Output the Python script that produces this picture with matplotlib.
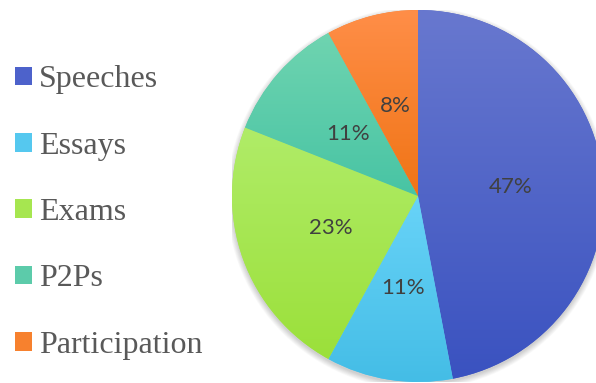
import matplotlib
matplotlib.use('Agg')
import matplotlib.pyplot as plt
import numpy as np
from matplotlib.colors import LinearSegmentedColormap
from matplotlib.patches import Circle, Patch

categories = ['Speeches', 'Essays', 'Exams', 'P2Ps', 'Participation']
values = [47, 11, 23, 11, 8]
top_colors = ['#6878CF', '#68D3F8', '#B0EC68', '#6FD4B0', '#FF8E48']
bottom_colors = ['#3A52C0', '#44BDE6', '#9BE03A', '#48C4A4', '#F07415']
mid_colors = ['#4D62CB', '#55C8EF', '#A6E650', '#5CCBAA', '#F7812E']

fig = plt.figure(figsize=(5.96, 3.83), dpi=100)
ax = fig.add_axes([232 / 596, 1 / 383, 372 / 596, 372 / 383])

wedges, texts, autotexts = ax.pie(
    values, startangle=90, counterclock=False, radius=1,
    colors=mid_colors, autopct='%.0f%%', pctdistance=0.5,
    wedgeprops=dict(linewidth=0),
    textprops=dict(family=['Lato', 'DejaVu Sans'], fontsize=16, color='#404040'))

# soft shadow
for i in range(8):
    ax.add_patch(Circle((0.0, -0.012), 1.0 + 0.004 * i, facecolor='black',
                        edgecolor='none', alpha=0.025, zorder=0))

# gradient fills
grad = np.linspace(0, 1, 256).reshape(-1, 1)
for w, tc, bc in zip(wedges, top_colors, bottom_colors):
    ext = w.get_path().get_extents()
    cmap = LinearSegmentedColormap.from_list('g', [tc, bc])
    im = ax.imshow(grad, cmap=cmap, extent=(ext.x0, ext.x1, ext.y0, ext.y1),
                   origin='upper', aspect='auto', zorder=1.5, interpolation='bilinear')
    im.set_clip_path(w)

ax.set_xlim(-1, 1)
ax.set_ylim(-1, 1)
ax.set_aspect('equal')
ax.axis('off')

handles = [Patch(facecolor=c, edgecolor='none') for c in mid_colors]
leg = fig.legend(handles, categories, loc='center left',
                 bbox_to_anchor=(15 / 596, 1 - 212.5 / 383),
                 frameon=False, borderpad=0, borderaxespad=0,
                 handlelength=0.53, handleheight=0.53, handletextpad=0.22,
                 labelspacing=1.17,
                 prop=dict(family=['Liberation Serif', 'DejaVu Serif'], size=23))
for t in leg.get_texts():
    t.set_color('#595959')

fig.savefig('out.png', dpi=100)
